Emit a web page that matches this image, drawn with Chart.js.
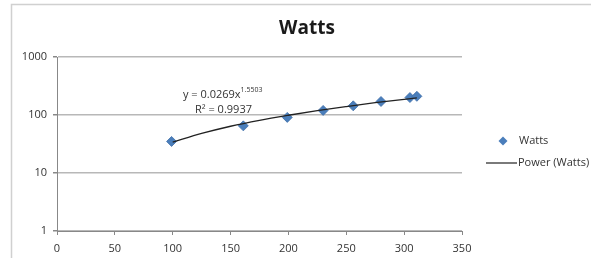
<!DOCTYPE html>
<html>
<head>
<meta charset="utf-8">
<script src="https://cdn.jsdelivr.net/npm/chart.js@4.4.0/dist/chart.umd.min.js"></script>
<style>
html, body { margin: 0; padding: 0; background: #fff; }
canvas { display: block; }
</style>
</head>
<body>
<canvas id="grafica" width="591" height="258"></canvas>
<script>
//datos
var velocidad = [99, 161, 199, 230, 256, 280, 305, 311];
var watts = [35, 65, 91, 120, 144, 171, 200, 210];
//linea de tendencia (power)
var trendX = [100, 125, 150, 175, 200, 225, 250, 275, 300, 311];
var trendY = [34, 48, 64, 81, 99, 119, 140, 163, 186, 197];
var yTicks = [1, 10, 100, 1000];
var titulo = "Watts";
var ecuacion = "y = 0.0269x";
var exponente = "1.5503";
var r2 = "R² = 0.9937";
var nombres = ["Watts", "Power (Watts)"];

var fuente = '"Open Sans", sans-serif';
var azul = "#4a7ebb";

//plugin para marco, titulo, ecuacion y leyenda
var extras = {
	id: "extras",
	beforeDraw: function (chart) {
		var ctx = chart.ctx;
		ctx.save();
		ctx.fillStyle = "#fff";
		ctx.fillRect(0, 0, chart.width, chart.height);
		ctx.strokeStyle = "#d0d0d0";
		ctx.lineWidth = 1.5;
		ctx.strokeRect(11.5, 4.5, 800, 400);
		ctx.restore();
	},
	afterDraw: function (chart) {
		var ctx = chart.ctx;
		ctx.save();
		//titulo
		ctx.fillStyle = "#1a1a1a";
		ctx.font = "bold 19px " + fuente;
		ctx.textAlign = "center";
		ctx.textBaseline = "middle";
		ctx.fillText(titulo, 307, 29);
		//ecuacion
		ctx.textAlign = "left";
		ctx.font = "11px " + fuente;
		ctx.fillStyle = "#333";
		ctx.fillText(ecuacion, 183, 95);
		var w = ctx.measureText(ecuacion).width;
		ctx.font = "7px " + fuente;
		ctx.fillText(exponente, 183 + w, 90);
		ctx.font = "11px " + fuente;
		ctx.fillText(r2, 195, 110);
		//leyenda
		var ds = chart.data.datasets;
		ctx.fillStyle = ds[0].backgroundColor;
		ctx.beginPath();
		ctx.moveTo(503, 136.5);
		ctx.lineTo(507.5, 141);
		ctx.lineTo(503, 145.5);
		ctx.lineTo(498.5, 141);
		ctx.closePath();
		ctx.fill();
		ctx.strokeStyle = ds[1].borderColor;
		ctx.lineWidth = 1.2;
		ctx.beginPath();
		ctx.moveTo(486, 163);
		ctx.lineTo(517, 163);
		ctx.stroke();
		ctx.fillStyle = "#333";
		ctx.fillText(nombres[0], 519, 141);
		ctx.fillText(nombres[1], 518, 163);
		ctx.restore();
	},
};

var puntos = velocidad.map(function (v, i) { return { x: v, y: watts[i] }; });
var tendencia = trendX.map(function (v, i) { return { x: v, y: trendY[i] }; });

new Chart(document.getElementById("grafica"), {
	type: "scatter",
	data: {
		datasets: [
			{
				label: nombres[0],
				data: puntos,
				backgroundColor: azul,
				borderColor: "#3f6fa8",
				borderWidth: 0.8,
				pointStyle: "rectRot",
				pointRadius: 5,
				order: 2,
			},
			{
				label: nombres[1],
				data: tendencia,
				showLine: true,
				borderColor: "#222",
				borderWidth: 1.3,
				pointRadius: 0,
				cubicInterpolationMode: "monotone",
				order: 1,
			},
		],
	},
	options: {
		responsive: false,
		animation: false,
		layout: { padding: { top: 57, right: 129, bottom: 0, left: 0 } },
		plugins: { legend: { display: false }, title: { display: false }, tooltip: { enabled: false } },
		scales: {
			x: {
				type: "linear",
				min: 0,
				max: 350,
				ticks: { stepSize: 50, color: "#333", font: { family: fuente, size: 11 }, padding: 7 },
				grid: { drawOnChartArea: false, tickLength: 4, tickColor: "#888" },
				border: { color: "#888", width: 1 },
				afterFit: function (s) { s.height = 27; },
			},
			y: {
				type: "logarithmic",
				min: 1,
				max: 1000,
				afterBuildTicks: function (s) { s.ticks = yTicks.map(function (v) { return { value: v }; }); },
				ticks: { color: "#333", font: { family: fuente, size: 11 }, padding: 6, callback: function (v) { return String(v); } },
				grid: { color: "#b8b8b8", lineWidth: 1.5, tickLength: 4, tickColor: "#888" },
				border: { color: "#888", width: 1 },
				afterFit: function (s) { s.width = 57; },
			},
		},
	},
	plugins: [extras],
});
</script>
</body>
</html>
